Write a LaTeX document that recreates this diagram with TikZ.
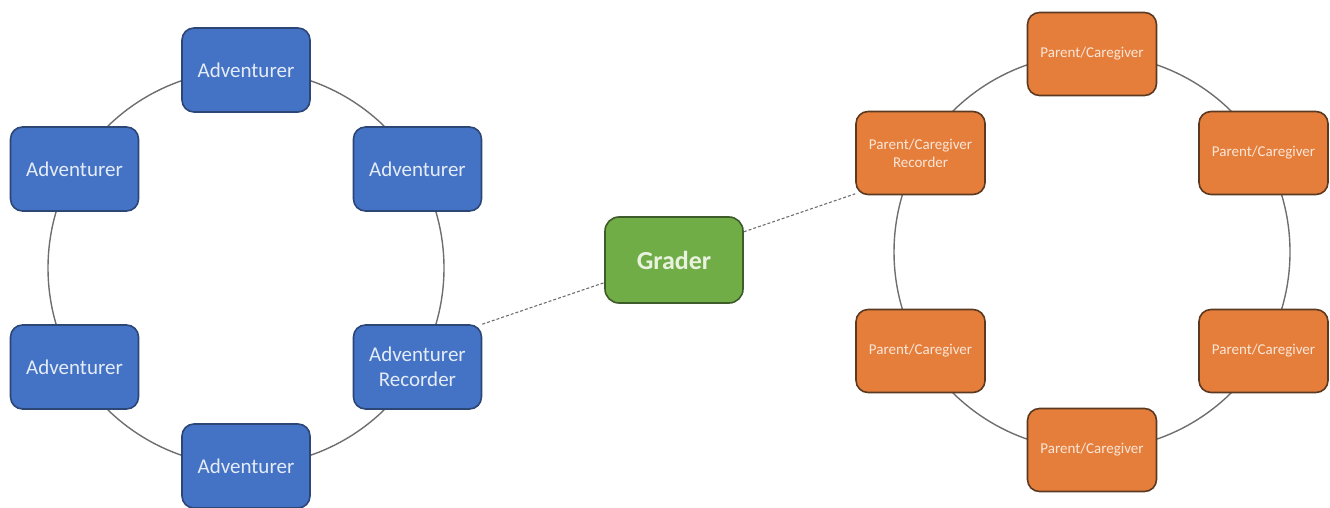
\documentclass[tikz,border=0pt]{standalone}
\usepackage{fontspec}
\setmainfont{Carlito}
\usetikzlibrary{calc}
\definecolor{bluefill}{HTML}{4472C4}
\definecolor{blueedge}{HTML}{2C4676}
\definecolor{bluetext}{HTML}{E4ECF8}
\definecolor{orangefill}{HTML}{E57E3B}
\definecolor{orangeedge}{HTML}{5C3A22}
\definecolor{orangetext}{HTML}{FBE6D8}
\definecolor{greenfill}{HTML}{71AD47}
\definecolor{greenedge}{HTML}{3E5B2A}
\definecolor{greentext}{HTML}{E8F2DF}
\definecolor{ringgray}{HTML}{6E6E6E}
\tikzset{
  advbox/.style={draw=blueedge, fill=bluefill, line width=1.6pt, rounded corners=12pt,
    minimum width=128pt, minimum height=84pt, inner sep=0pt, align=center,
    text=bluetext, font=\fontsize{21}{25}\selectfont},
  parbox/.style={draw=orangeedge, fill=orangefill, line width=1.6pt, rounded corners=12pt,
    minimum width=129pt, minimum height=83pt, inner sep=0pt, align=center,
    text=orangetext, font=\fontsize{15}{18}\selectfont},
  gradbox/.style={draw=greenedge, fill=greenfill, line width=1.6pt, rounded corners=14pt,
    minimum width=138pt, minimum height=86pt, inner sep=0pt, align=center,
    text=greentext, font=\bfseries\fontsize{26}{30}\selectfont},
  ring/.style={draw=ringgray, line width=1.4pt},
  link/.style={draw=ringgray, line width=1.1pt, dash pattern=on 3pt off 2pt},
}
\begin{document}
\begin{tikzpicture}[x=1pt,y=1pt]
\useasboundingbox (0,0) rectangle (1330,-508);
\coordinate (L) at (246,-268);
\coordinate (R) at (1092,-252);
\draw[ring] (L) circle (198pt);
\draw[ring] (R) circle (198pt);
% left cluster
\node[advbox] (a1) at ($(L)+(90:198)$) {Adventurer};
\node[advbox] (a2) at ($(L)+(30:198)$) {Adventurer};
\node[advbox] (a3) at ($(L)+(-30:198)$) {Adventurer\\Recorder};
\node[advbox] (a4) at ($(L)+(-90:198)$) {Adventurer};
\node[advbox] (a5) at ($(L)+(-150:198)$) {Adventurer};
\node[advbox] (a6) at ($(L)+(150:198)$) {Adventurer};
% right cluster
\node[parbox] (p1) at ($(R)+(90:198)$) {Parent/Caregiver};
\node[parbox] (p2) at ($(R)+(30:198)$) {Parent/Caregiver};
\node[parbox] (p3) at ($(R)+(-30:198)$) {Parent/Caregiver};
\node[parbox] (p4) at ($(R)+(-90:198)$) {Parent/Caregiver};
\node[parbox] (p5) at ($(R)+(-150:198)$) {Parent/Caregiver};
\node[parbox] (p6) at ($(R)+(150:198)$) {Parent/Caregiver\\Recorder};
% grader
\node[gradbox] (g) at (674,-260) {Grader};
\draw[link] (a3.north east) -- (g.198);
\draw[link] (g.22) -- (p6.212);
\end{tikzpicture}
\end{document}
